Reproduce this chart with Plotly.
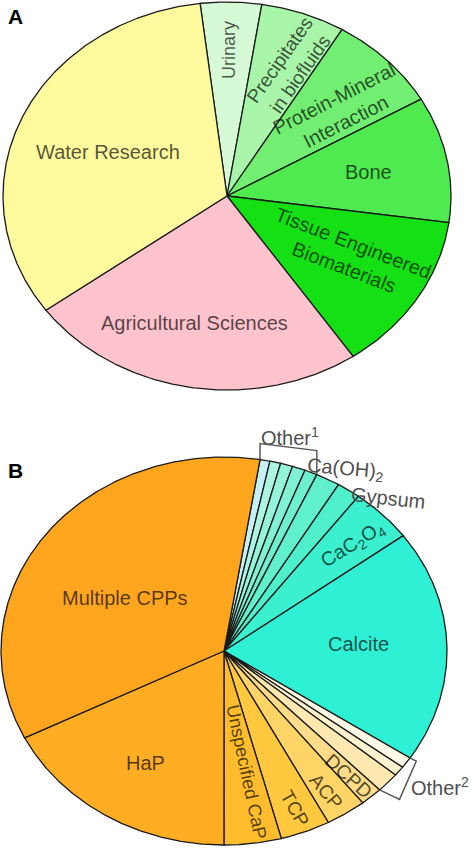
import numpy as np
import plotly.graph_objects as go

# ---------------- Data ----------------
# Panel A: research fields (share of studies, %)
a_labels = ["Urinary", "Precipitates<br>in biofluids", "Protein-Mineral<br>Interaction",
            "Bone", "Tissue Engineered<br>Biomaterials", "Agricultural Sciences", "Water Research"]
a_values = [4.4, 6.1, 8.1, 10.5, 13.3, 24.5, 33.1]

# Panel B: mineral phases (share of studies, %)
b_labels = ["", "", "", "", "", "Ca(OH)<sub>2</sub>", "Gypsum", "CaC<sub>2</sub>O<sub>4</sub>", "Calcite",
            "", "", "", "DCPD", "ACP", "TCP", "Unspecified CaP", "HaP", "Multiple CPPs"]
b_values = [0.72, 0.78, 0.89, 0.94, 0.92, 1.75, 1.72, 4.56, 19.44,
            0.92, 0.81, 1.67, 1.61, 2.94, 3.61, 4.14, 17.61, 34.97]
b_groups = ["Other<sup>1</sup>"] * 5 + [None] * 4 + ["Other<sup>2</sup>"] * 3 + [None] * 6

# ---------------- Style ----------------
a_colors = ["#D6FAD6", "#A9F5A9", "#72EF72", "#4FEA4F", "#14E014", "#FFC3CD", "#FFFA9E"]
b_colors = ["#C6F0F5", "#ADF5E2", "#94F3D9", "#80F1D3", "#6EF0CF", "#60F0CC", "#4EF0CB", "#3AF0CF", "#2EF0D5",
            "#FFFBE6", "#FFF3CF", "#FFE9B0", "#FFDC8A", "#FFD466", "#FFC83E", "#FFBC2C", "#FFAE24", "#FFA61E"]

# label placement: (radius fraction, angle nudge deg, text angle)
a_lab_style = [(0.753, 0.3, -90), (0.723, -3.0, -55), (0.671, -3.3, -27), (0.643, 0.0, 0),
               (0.621, 2.3, 21), (0.672, -2.5, 0), (0.576, 0.5, 0)]
b_lab_style = {"Ca(OH)<sub>2</sub>": (1.083, -2.4, 5), "Gypsum": (1.078, -9.1, 6),
               "CaC<sub>2</sub>O<sub>4</sub>": (0.797, -1.4, -32), "Calcite": (0.603, 1.9, 0),
               "DCPD": (0.854, -0.4, 42), "ACP": (0.857, -1.0, 50), "TCP": (0.871, 0.0, 60),
               "Unspecified CaP": (0.634, 1.9, 78), "HaP": (0.679, 0.3, 0), "Multiple CPPs": (0.52, 4.9, 0)}
group_style = {"Other<sup>1</sup>": dict(r=1.144, nudge=2.0, leg_dir=(0, -1), legs=(16, 24)),
               "Other<sup>2</sup>": dict(r=1.195, nudge=3.8, leg_dir=(0.902, 0.431), legs=(7, 22))}

W, H = 474, 849
A_geom = dict(cx=227, cy=196, rx=224, ry=194, start=96.9)
B_geom = dict(cx=224, cy=651, rx=223, ry=194, start=80.7)

FONT = "Arial, Liberation Sans, sans-serif"
IN_COLOR = "rgba(0,0,0,0.68)"
OUT_COLOR = "#505050"
EDGE = "#1a1a1a"

fig = go.Figure()
annotations = []


def edge_pt(g, t, r=1.0):
    rad = np.deg2rad(t)
    return g["cx"] + r * g["rx"] * np.cos(rad), g["cy"] - r * g["ry"] * np.sin(rad)


def slice_angles(values, start):
    v = np.asarray(values, dtype=float)
    spans = v / v.sum() * 360.0
    ends = start - np.cumsum(spans)
    starts = ends + spans
    return starts, ends


def draw_pie(g, values, colors):
    starts, ends = slice_angles(values, g["start"])
    for t0, t1, col in zip(starts, ends, colors):
        n = max(3, int(abs(t0 - t1) * 3))
        ts = np.linspace(t0, t1, n)
        xs, ys = edge_pt(g, ts)
        x = np.concatenate([[g["cx"]], xs, [g["cx"]]])
        y = np.concatenate([[g["cy"]], ys, [g["cy"]]])
        fig.add_trace(go.Scatter(x=x, y=y, mode="lines", fill="toself", fillcolor=col,
                                 line=dict(color=EDGE, width=1.3), hoverinfo="skip"))
    return starts, ends


def add_label(x, y, text, angle, color):
    # the reference image is stretched horizontally, so horizontal text reads wider
    size = 18 + 2 * abs(np.cos(np.deg2rad(angle)))
    annotations.append(dict(x=x, y=y, xref="x", yref="y", text=text, showarrow=False,
                            textangle=angle, font=dict(family=FONT, size=round(size, 1), color=color),
                            xanchor="center", yanchor="middle", align="center"))


# ---- Panel A ----
sA, eA = draw_pie(A_geom, a_values, a_colors)
for lab, t0, t1, (r, nd, ang) in zip(a_labels, sA, eA, a_lab_style):
    x, y = edge_pt(A_geom, (t0 + t1) / 2 + nd, r)
    add_label(x, y, lab, ang, IN_COLOR)

# ---- Panel B ----
sB, eB = draw_pie(B_geom, b_values, b_colors)
for lab, t0, t1 in zip(b_labels, sB, eB):
    if lab:
        r, nd, ang = b_lab_style[lab]
        x, y = edge_pt(B_geom, (t0 + t1) / 2 + nd, r)
        add_label(x, y, lab, ang, IN_COLOR if r < 1 else OUT_COLOR)

for grp, st in group_style.items():
    idx = [i for i, gname in enumerate(b_groups) if gname == grp]
    g0, g1 = sB[idx[0]], eB[idx[-1]]
    p0 = edge_pt(B_geom, g0)
    p3 = edge_pt(B_geom, g1)
    dx, dy = st["leg_dir"]
    p1 = (p0[0] + dx * st["legs"][0], p0[1] + dy * st["legs"][0])
    p2 = (p3[0] + dx * st["legs"][1], p3[1] + dy * st["legs"][1])
    fig.add_trace(go.Scatter(x=[p0[0], p1[0], p2[0], p3[0]], y=[p0[1], p1[1], p2[1], p3[1]],
                             mode="lines", line=dict(color="#5a5a5a", width=1.5), hoverinfo="skip"))
    x, y = edge_pt(B_geom, (g0 + g1) / 2 + st["nudge"], st["r"])
    add_label(x, y, grp, 0, OUT_COLOR)

# panel letters
for letter, (x, y) in {"A": (15, 16), "B": (15, 470)}.items():
    annotations.append(dict(x=x, y=y, xref="x", yref="y", text=f"<b>{letter}</b>", showarrow=False,
                            font=dict(family=FONT, size=21, color="black"),
                            xanchor="center", yanchor="middle"))

fig.update_layout(
    width=W, height=H, margin=dict(l=0, r=0, t=0, b=0),
    paper_bgcolor="white", plot_bgcolor="white", showlegend=False,
    xaxis=dict(range=[0, W], visible=False, fixedrange=True),
    yaxis=dict(range=[H, 0], visible=False, fixedrange=True),
    annotations=annotations,
)

fig.write_html("out.html", config={"displayModeBar": False},
               post_script="document.body.style.margin='0';document.body.style.overflow='hidden';")
